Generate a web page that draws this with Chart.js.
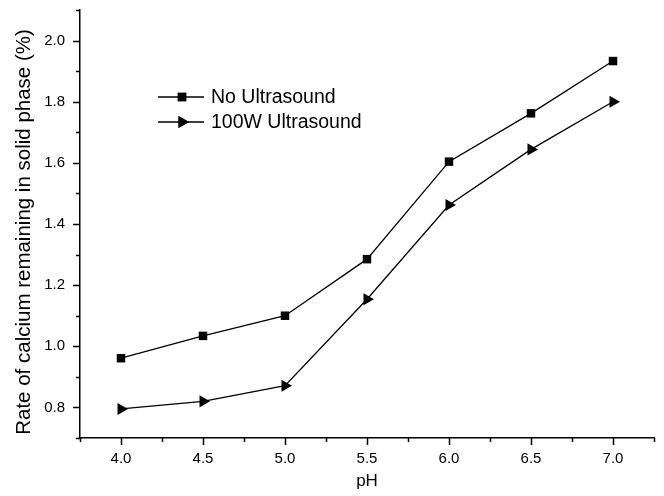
<!DOCTYPE html>
<html>
<head>
<meta charset="utf-8">
<script src="https://cdn.jsdelivr.net/npm/chart.js@4.4.1/dist/chart.umd.min.js"></script>
<style>
    html, body { margin: 0; padding: 0; background: #fff; }
    #wrap { width: 664px; height: 496px; }
</style>
</head>
<body>
<div id="wrap"><canvas id="chart"></canvas></div>
<script>
const phValues = [4.0, 4.5, 5.0, 5.5, 6.0, 6.5, 7.0];
const noUltrasound = [0.961, 1.034, 1.100, 1.285, 1.604, 1.762, 1.933];
const ultrasound100W = [0.795, 0.820, 0.871, 1.154, 1.462, 1.644, 1.800];
const seriesLabels = ["No Ultrasound", "100W Ultrasound"];

const xMajorTicks = [4.0, 4.5, 5.0, 5.5, 6.0, 6.5, 7.0];
const xMinorTicks = [3.75, 4.25, 4.75, 5.25, 5.75, 6.25, 6.75, 7.25];
const yMajorTicks = [0.8, 1.0, 1.2, 1.4, 1.6, 1.8, 2.0];
const yMinorTicks = [0.7, 0.9, 1.1, 1.3, 1.5, 1.7, 1.9, 2.1];

const yTitle = "Rate of calcium remaining in solid phase (%)";
const FONT = "'Liberation Sans', Arial, sans-serif";

function points(ys) {
    return phValues.map((x, i) => ({ x: x, y: ys[i] }));
}

function allTicks(major, minor) {
    return major.concat(minor).sort((a, b) => a - b).map(v => ({ value: v }));
}

function isMajor(list, v) {
    return list.some(m => Math.abs(m - v) < 1e-6);
}

// tick marks (major long, minor short) drawn outward like the original
const tickMarks = {
    id: "tickMarks",
    afterDraw(chart) {
        const ctx = chart.ctx;
        const xs = chart.scales.x;
        const ys = chart.scales.y;
        ctx.save();
        ctx.strokeStyle = "#000";
        ctx.lineWidth = 1.5;
        ctx.beginPath();
        xMajorTicks.concat(xMinorTicks).forEach(v => {
            const px = Math.round(xs.getPixelForValue(v)) + 0.5;
            const len = isMajor(xMajorTicks, v) ? 7 : 4;
            ctx.moveTo(px, xs.top);
            ctx.lineTo(px, xs.top + len);
        });
        yMajorTicks.concat(yMinorTicks).forEach(v => {
            const py = Math.round(ys.getPixelForValue(v)) + 0.5;
            const len = isMajor(yMajorTicks, v) ? 7 : 4;
            ctx.moveTo(ys.right, py);
            ctx.lineTo(ys.right - len, py);
        });
        ctx.stroke();

        // y axis title, placed a little lower than the axis centre as in the original
        ctx.font = "20.5px " + FONT;
        ctx.fillStyle = "#000";
        ctx.textAlign = "center";
        ctx.textBaseline = "middle";
        ctx.translate(24, 232);
        ctx.rotate(-Math.PI / 2);
        ctx.fillText(yTitle, 0, 0);
        ctx.restore();
    }
};

// legend drawn as line + marker, like the Origin style
const lineLegend = {
    id: "lineLegend",
    afterDraw(chart) {
        const ctx = chart.ctx;
        const rows = [97, 122];
        ctx.save();
        chart.data.datasets.forEach((ds, i) => {
            const y = rows[i];
            ctx.strokeStyle = "#000";
            ctx.lineWidth = 1.3;
            ctx.beginPath();
            ctx.moveTo(158, y);
            ctx.lineTo(204, y);
            ctx.stroke();
            Chart.helpers.drawPoint(ctx, {
                pointStyle: ds.pointStyle,
                radius: ds.pointRadius,
                rotation: ds.pointRotation || 0,
                borderWidth: 0
            }, 182, y);
            ctx.fillStyle = "#000";
            ctx.fill();
            ctx.font = "19.5px " + FONT;
            ctx.textBaseline = "middle";
            ctx.fillText(ds.label, 211, y + 1);
        });
        ctx.restore();
    }
};

new Chart(document.getElementById("chart"), {
    type: "line",
    data: {
        datasets: [
            {
                label: seriesLabels[0],
                data: points(noUltrasound),
                borderColor: "#000",
                backgroundColor: "#000",
                borderWidth: 1.3,
                pointStyle: "rect",
                pointRadius: 6,
                pointBorderWidth: 0,
                tension: 0
            },
            {
                label: seriesLabels[1],
                data: points(ultrasound100W),
                borderColor: "#000",
                backgroundColor: "#000",
                borderWidth: 1.3,
                pointStyle: "triangle",
                pointRotation: 90,
                pointRadius: 7,
                pointBorderWidth: 0,
                tension: 0
            }
        ]
    },
    options: {
        responsive: true,
        maintainAspectRatio: false,
        animation: false,
        layout: { padding: { top: 10, right: 10, left: 0, bottom: 0 } },
        plugins: {
            legend: { display: false },
            tooltip: { enabled: false }
        },
        scales: {
            x: {
                type: "linear",
                min: 3.75,
                max: 7.25,
                afterBuildTicks: s => { s.ticks = allTicks(xMajorTicks, xMinorTicks); },
                afterFit: s => { s.height = 58; s.paddingLeft = 0; s.paddingRight = 0; },
                grid: { display: false, drawTicks: false },
                border: { display: true, color: "#000", width: 1.5 },
                ticks: {
                    color: "#000",
                    font: { family: FONT, size: 15 },
                    padding: 12,
                    maxRotation: 0,
                    autoSkip: false,
                    callback: v => isMajor(xMajorTicks, v) ? v.toFixed(1) : ""
                },
                title: {
                    display: true,
                    text: "pH",
                    color: "#000",
                    font: { family: FONT, size: 17 },
                    padding: { top: 0, bottom: 4 }
                }
            },
            y: {
                type: "linear",
                min: 0.7,
                max: 2.1,
                afterBuildTicks: s => { s.ticks = allTicks(yMajorTicks, yMinorTicks); },
                afterFit: s => { s.width = 80; s.paddingTop = 0; s.paddingBottom = 0; },
                grid: { display: false, drawTicks: false },
                border: { display: true, color: "#000", width: 1.5 },
                ticks: {
                    color: "#000",
                    font: { family: FONT, size: 15 },
                    padding: 15,
                    autoSkip: false,
                    callback: v => isMajor(yMajorTicks, v) ? v.toFixed(1) : ""
                }
            }
        }
    },
    plugins: [tickMarks, lineLegend]
});
</script>
</body>
</html>
